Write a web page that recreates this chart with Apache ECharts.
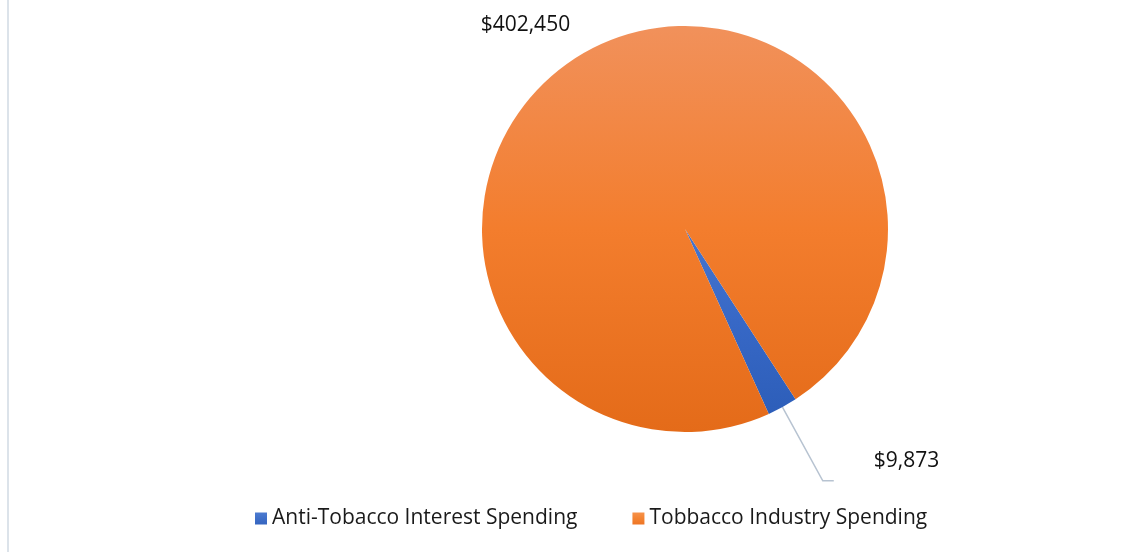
<!DOCTYPE html>
<html>
<head>
<meta charset="utf-8">
<title>Tobacco Spending</title>
<script src="https://cdn.jsdelivr.net/npm/echarts@6/dist/echarts.min.js"></script>
<style>
  html, body { margin: 0; padding: 0; background: #ffffff; }
  #chart { width: 1147px; height: 552px; }
</style>
</head>
<body>
<div id="chart"></div>
<script>
// Spending categories and amounts (USD)
const categories = ['Anti-Tobacco Interest Spending', 'Tobbacco Industry Spending'];
const amounts = [9873, 402450];

const FONT = '"Open Sans", "Noto Sans", sans-serif';

function vGrad(top, mid, bottom) {
  return new echarts.graphic.LinearGradient(0, 0, 0, 1, [
    { offset: 0, color: top },
    { offset: 0.5, color: mid },
    { offset: 1, color: bottom }
  ]);
}
const fills = [
  vGrad('#4675CE', '#3768C6', '#2D5EB9'),
  vGrad('#F1915B', '#F37D2D', '#E46B19')
];
const legendFills = [
  vGrad('#4C7BD0', '#3F6FC8', '#3565C0'),
  vGrad('#F7924A', '#F38332', '#EE7525')
];

// Per-slice label layout: long leader for the thin slice, none for the large one
const sliceLabel = [
  { line: { show: true, length: 84, length2: 11 }, shift: { dx: 35, dy: -20 } },
  { line: { show: false, length: 30, length2: 0 }, shift: { dx: 2, dy: 0 } }
];

const fmt = v => '$' + v.toLocaleString('en-US');

const chart = echarts.init(document.getElementById('chart'), null, { renderer: 'canvas' });

chart.setOption({
  animation: false,
  backgroundColor: '#ffffff',
  legend: {
    bottom: 18,
    left: 250,
    itemWidth: 12,
    itemHeight: 12,
    itemGap: 55,
    icon: 'rect',
    textStyle: { fontFamily: FONT, fontSize: 21, color: '#1a1a1a' },
    data: categories.map((name, i) => ({ name, itemStyle: { color: legendFills[i] } }))
  },
  graphic: [{
    type: 'rect',
    shape: { x: 7, y: 0, width: 2, height: 552 },
    style: { fill: '#dce3ea' },
    silent: true
  }],
  series: [{
    type: 'pie',
    center: [685, 229],
    radius: 203,
    startAngle: -57,
    clockwise: true,
    avoidLabelOverlap: false,
    label: {
      show: true,
      position: 'outside',
      fontFamily: FONT,
      fontSize: 21,
      color: '#111111',
      formatter: p => fmt(p.value)
    },
    labelLine: {
      lineStyle: { color: '#b7c3d1', width: 1.5 }
    },
    labelLayout: function (p) {
      const s = sliceLabel[p.dataIndex].shift;
      return { dx: s.dx, dy: s.dy, labelLinePoints: p.labelLinePoints };
    },
    emphasis: { disabled: true },
    data: categories.map((name, i) => ({
      name,
      value: amounts[i],
      itemStyle: { color: fills[i] },
      labelLine: sliceLabel[i].line
    }))
  }]
});
</script>
</body>
</html>
